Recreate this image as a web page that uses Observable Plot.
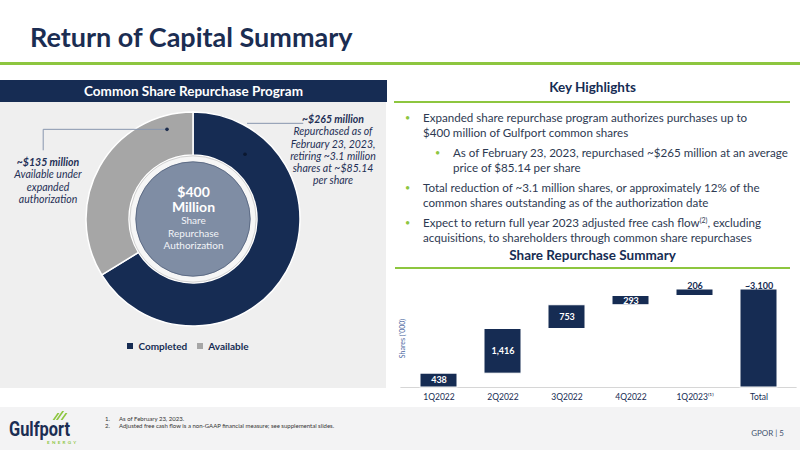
<!DOCTYPE html>
<html><head><meta charset="utf-8">
<script src="https://cdn.jsdelivr.net/npm/d3@7"></script>
<script src="https://cdn.jsdelivr.net/npm/@observablehq/plot@0.6"></script>
<style>
html,body{margin:0;padding:0;background:#fff;}
#slide{position:relative;width:800px;height:450px;overflow:hidden;font-family:Lato,"Open Sans",sans-serif;color:#162c53;}
.abs{position:absolute;}
#title{left:30px;top:23px;font-size:27px;line-height:27px;font-weight:700;white-space:nowrap;color:#1b2d52;}
#leftHead{left:0;top:80px;width:387px;height:22px;background:#162c53;color:#fff;font-weight:700;font-size:13.5px;line-height:22px;text-align:center;}
#leftPanel{left:0;top:102px;width:386px;height:286px;background:#efefef;}
.ann{font-style:italic;font-size:10.5px;line-height:12.3px;text-align:center;color:#1f3056;white-space:nowrap;}
.ann b{font-weight:700;}
.head{font-weight:700;font-size:13.5px;line-height:16px;text-align:center;color:#162c53;white-space:nowrap;}
.gl{background:#8dc63f;}
#bullets{left:423px;top:109.5px;font-size:11.6px;line-height:15px;color:#2e3a52;white-space:nowrap;}
.b{position:relative;margin-bottom:5px;line-height:15px;}
.b.sub{margin-left:30px;}
.dot{position:absolute;left:-18px;top:0;color:#8dc63f;font-size:9px;}
.b sup{font-size:0.6em;line-height:0;vertical-align:baseline;position:relative;top:-0.55em;}
#footer{left:0;top:407px;width:800px;height:43px;background:#f3f3f4;}
#logo{left:9px;top:421px;font-family:Roboto,"DejaVu Sans",sans-serif;font-weight:700;font-size:21px;line-height:17px;color:#1b2d52;transform:scaleX(0.78);transform-origin:left center;white-space:nowrap;}
.stripe{background:#8dc63f;width:2.2px;transform:skewX(-35deg);}
#energy{left:47px;top:440px;font-size:4.5px;line-height:6px;letter-spacing:2.3px;color:#8dc63f;font-weight:700;}
#notes{left:105px;top:414.5px;font-size:6px;line-height:7px;color:#333;white-space:nowrap;}
#notes span{display:inline-block;width:14px;}
#page{left:740px;top:427px;width:44px;text-align:right;font-size:8px;line-height:12px;color:#44546f;}
#legendBox{left:0;top:339px;width:386px;height:13px;display:flex;justify-content:center;align-items:center;}
.dl-swatches{justify-content:center;min-height:0 !important;margin:0 !important;}
</style></head><body>
<div id="slide">
  <div class="abs" id="title">Return of Capital Summary</div>
  <div class="abs gl" style="left:0;top:62px;width:800px;height:3px;"></div>

  <div class="abs" id="leftHead">Common Share Repurchase Program</div>
  <div class="abs" id="leftPanel"></div>
  <div class="abs ann" style="left:3px;top:156px;width:90px;"><b>~$135 million</b><br>Available under<br>expanded<br>authorization</div>
  <div class="abs ann" style="left:283px;top:113px;width:100px;"><b>~$265 million</b><br>Repurchased as of<br>February 23, 2023,<br>retiring ~3.1 million<br>shares at ~$85.14<br>per share</div>
  <div class="abs" id="legendBox"></div>

  <div class="abs head" style="left:395px;top:79px;width:395px;">Key Highlights</div>
  <div class="abs gl" style="left:394px;top:100.5px;width:396px;height:2px;"></div>
  <div class="abs" id="bullets">
    <div class="b"><span class="dot">•</span>Expanded share repurchase program authorizes purchases up to<br>$400 million of Gulfport common shares</div>
    <div class="b sub"><span class="dot">•</span>As of February 23, 2023, repurchased ~$265 million at an average<br>price of $85.14 per share</div>
    <div class="b"><span class="dot">•</span>Total reduction of ~3.1 million shares, or approximately 12% of the<br>common shares outstanding as of the authorization date</div>
    <div class="b"><span class="dot">•</span>Expect to return full year 2023 adjusted free cash flow<sup>(2)</sup>, excluding<br>acquisitions, to shareholders through common share repurchases</div>
  </div>
  <div class="abs head" style="left:395px;top:247px;width:395px;">Share Repurchase Summary</div>
  <div class="abs gl" style="left:395px;top:267px;width:395px;height:2px;"></div>
  <div class="abs" id="barBox" style="left:390px;top:270px;"></div>

  <div class="abs" id="footer"></div>
  <div class="abs stripe" style="left:55px;top:413px;height:7px;"></div>
  <div class="abs stripe" style="left:59px;top:411px;height:9px;"></div>
  <div class="abs stripe" style="left:63px;top:413px;height:7px;"></div>
  <div class="abs" id="logo">Gulfport</div>
  <div class="abs" id="energy">ENERGY</div>
  <div class="abs" id="notes"><span>1.</span>As of February 23, 2023.<br><span>2.</span>Adjusted free cash flow is a non-GAAP financial measure; see supplemental slides.</div>
  <div class="abs" id="page">GPOR | 5</div>
</div>
<script>
const NAVY = "#162c53";

// Donut data
const pieLabels = ["Completed", "Available"];
const pieValues = [265, 135];
const pieColors = [NAVY, "#a6a6a6"];
const centerTitle = ["$400", "Million"];
const centerSub = ["Share", "Repurchase", "Authorization"];

// Waterfall data
const quarters = ["1Q2022", "2Q2022", "3Q2022", "4Q2022", "1Q2023"];
const repurchased = [438, 1416, 753, 293, 206];
const totalCategory = "Total";
const barLabels = ["438", "1,416", "753", "293", "206", "~3,100"];
const footnotedCategory = "1Q2023";

const pieData = pieLabels.map((l, i) => ({label: l, value: pieValues[i], color: pieColors[i]}));

function donutRender() {
  const dims = Array.from(arguments).find(a => a && a.marginLeft !== undefined && a.width !== undefined);
  const fw = dims.width - dims.marginLeft - dims.marginRight;
  const fh = dims.height - dims.marginTop - dims.marginBottom;
  const cx = dims.marginLeft + fw / 2, cy = dims.marginTop + fh / 2, R = fw / 2;
  const g = d3.create("svg:g").attr("transform", `translate(${cx},${cy})`);
  const arcs = d3.pie().sort(null).value(d => d.value)(pieData);
  const arc = d3.arc().innerRadius(R * 0.598).outerRadius(R);
  g.selectAll("path.slice").data(arcs).join("path").attr("class", "slice")
    .attr("d", arc).attr("fill", d => d.data.color).attr("stroke", "#ffffff").attr("stroke-width", 1.5);
  g.append("circle").attr("r", R * 0.59).attr("fill", "#f6f6f6").attr("stroke", "#d2d2d2").attr("stroke-width", 1);
  g.append("circle").attr("r", R * 0.535).attr("fill", "#7f8da4").attr("stroke", "#4e5d78").attr("stroke-width", 0.8);
  const lc = "#8796ae";
  g.append("path").attr("d", `M${-0.243 * R},${-0.838 * R}H${-1.40 * R}V${-0.642 * R}`)
    .attr("fill", "none").attr("stroke", lc).attr("stroke-width", 1);
  g.append("path").attr("d", `M${0.505 * R},${-0.894 * R}H${1.03 * R}`)
    .attr("fill", "none").attr("stroke", lc).attr("stroke-width", 1);
  g.append("circle").attr("cx", -0.243 * R).attr("cy", -0.838 * R).attr("r", 1.8).attr("fill", "#1c2c4c");
  g.append("circle").attr("cx", 0.486 * R).attr("cy", -0.605 * R).attr("r", 1.8).attr("fill", "#0b1830");
  return g.node();
}

const donut = Plot.plot({
  width: 386, height: 230,
  marginLeft: 86, marginRight: 86, marginTop: 10, marginBottom: 6,
  style: {background: "transparent", fontFamily: "Lato", overflow: "visible"},
  marks: [
    donutRender,
    Plot.text([centerTitle.join("\n")], {frameAnchor: "middle", dy: -20, fontSize: 14, fontWeight: "bold", fill: "white", lineHeight: 1.1}),
    Plot.text([centerSub.join("\n")], {frameAnchor: "middle", dy: 13, fontSize: 10, fill: "#f2f4f8", lineHeight: 1.25})
  ]
});
donut.style.position = "absolute";
donut.style.left = "0px";
donut.style.top = "0px";
document.getElementById("leftPanel").appendChild(donut);

const legend = Plot.legend({
  color: {domain: pieLabels, range: pieColors},
  legend: "swatches",
  swatchSize: 6,
  className: "dl",
  style: {fontSize: "10px", fontWeight: "bold", fontFamily: "Lato", color: NAVY}
});
document.getElementById("legendBox").appendChild(legend);

// Waterfall rows
const ends = d3.cumsum(repurchased);
const rows = quarters.map((q, i) => ({cat: q, y1: ends[i] - repurchased[i], y2: ends[i], label: barLabels[i]}));
rows.push({cat: totalCategory, y1: 0, y2: d3.sum(repurchased), label: barLabels[quarters.length]});
const labelAbove = new Set([footnotedCategory, totalCategory]);

const bars = Plot.plot({
  width: 410, height: 140,
  marginLeft: 22.4, marginRight: 15.4, marginTop: 19, marginBottom: 23,
  style: {background: "transparent", fontFamily: "Lato", color: NAVY, overflow: "visible"},
  x: {domain: rows.map(d => d.cat), paddingInner: 0.42, paddingOuter: 0.1},
  y: {domain: [0, d3.sum(repurchased)], axis: null},
  marks: [
    Plot.ruleY([0], {stroke: "#d6d6d6", strokeWidth: 1.2, insetLeft: -12, insetRight: -12}),
    Plot.rectY(rows, {x: "cat", y1: "y1", y2: "y2", fill: NAVY, stroke: "white", strokeWidth: 1}),
    Plot.text(rows.filter(d => !labelAbove.has(d.cat)), {x: "cat", y: d => (d.y1 + d.y2) / 2, text: "label", fill: "white", fontSize: 9, fontWeight: "bold"}),
    Plot.text(rows.filter(d => labelAbove.has(d.cat)), {x: "cat", y: "y2", text: "label", fill: NAVY, fontSize: 9, fontWeight: "bold", lineAnchor: "bottom", dy: -1}),
    Plot.axisX({tickSize: 0, tickPadding: 6, fontSize: 8.5, color: NAVY, label: null,
      tickFormat: d => d === footnotedCategory ? d + "\u207D\u00B9\u207E" : d}),
    Plot.text(["Shares ('000)"], {frameAnchor: "left", rotate: -90, dx: -10, textAnchor: "middle", fontSize: 7, fill: "#4a66a0"})
  ]
});
document.getElementById("barBox").appendChild(bars);
</script>
</body></html>
